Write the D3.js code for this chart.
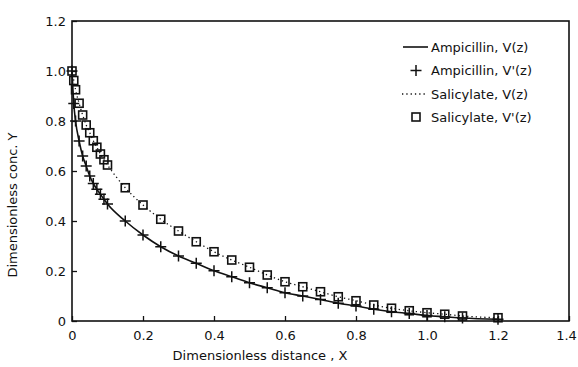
<!DOCTYPE html>
<html>
<head>
<meta charset="utf-8">
<script src="https://cdn.jsdelivr.net/npm/d3@7"></script>
<style>
body { margin: 0; background: #fff; }
svg text { font-family: "DejaVu Sans", "Liberation Sans", sans-serif; fill: #111; }
</style>
</head>
<body>
<svg id="chart"></svg>
<script>
// data
var xVals = [0, 0.005, 0.01, 0.02, 0.03, 0.04, 0.05, 0.06, 0.07, 0.08, 0.09, 0.1,
  0.15, 0.2, 0.25, 0.3, 0.35, 0.4, 0.45, 0.5, 0.55, 0.6, 0.65, 0.7, 0.75, 0.8,
  0.85, 0.9, 0.95, 1.0, 1.05, 1.1, 1.2]
var ampicillin = [1.0, 0.87, 0.80, 0.72, 0.66, 0.62, 0.58, 0.55, 0.527, 0.507, 0.487, 0.468,
  0.40, 0.344, 0.297, 0.26, 0.231, 0.201, 0.177, 0.153, 0.133, 0.113, 0.10, 0.086, 0.071, 0.06,
  0.047, 0.037, 0.03, 0.022, 0.017, 0.012, 0.007]
var salicylate = [1.0, 0.962, 0.925, 0.871, 0.824, 0.784, 0.753, 0.721, 0.695, 0.668, 0.645, 0.624,
  0.533, 0.464, 0.407, 0.36, 0.317, 0.277, 0.244, 0.215, 0.184, 0.157, 0.137, 0.117, 0.097, 0.081,
  0.064, 0.051, 0.041, 0.033, 0.027, 0.02, 0.013]
var xTicks = [0, 0.2, 0.4, 0.6, 0.8, 1.0, 1.2, 1.4]
var yTicks = [0, 0.2, 0.4, 0.6, 0.8, 1.0, 1.2]
var legendLabels = ["Ampicillin, V(z)", "Ampicillin, V'(z)", "Salicylate, V(z)", "Salicylate, V'(z)"]

var margin = {top: 21, right: 9, bottom: 46, left: 72}
var W = 578, H = 367
var width = W - margin.left - margin.right
var height = H - margin.top - margin.bottom

var svg = d3.select("#chart").attr("width", W).attr("height", H)
var g = svg.append("g").attr("transform", "translate(" + margin.left + "," + margin.top + ")")

var x = d3.scaleLinear().domain([0, 1.4]).range([0, width])
var y = d3.scaleLinear().domain([0, 1.2]).range([height, 0])

var fmt = function(d){ return d === 0 ? "0" : d3.format(".1f")(d) }

// axes, ticks pointing inward
var xAxis = g.append("g").attr("transform", "translate(0," + height + ")")
  .call(d3.axisBottom(x).tickValues(xTicks).tickFormat(fmt).tickSizeInner(-5).tickSizeOuter(0).tickPadding(6))
var yAxis = g.append("g")
  .call(d3.axisLeft(y).tickValues(yTicks).tickFormat(fmt).tickSizeInner(-5).tickSizeOuter(0).tickPadding(6))
xAxis.selectAll("text").style("font-size", "13px").attr("dy", "1em")
  .attr("dx", function(d){ return d === 1.4 ? -3 : 0 })
yAxis.selectAll("text").style("font-size", "13px").attr("dy", "0.35em")
g.selectAll(".domain").remove()
g.selectAll(".tick line").attr("stroke", "#111").attr("stroke-width", 1.3)

// frame
g.append("rect").attr("width", width).attr("height", height)
  .attr("fill", "none").attr("stroke", "#111").attr("stroke-width", 1.6)

var pts = function(arr){ return xVals.map(function(v, i){ return [v, arr[i]] }) }

var line = d3.line().x(function(d){ return x(d[0]) }).y(function(d){ return y(d[1]) }).curve(d3.curveMonotoneX)

g.append("path").datum(pts(ampicillin)).attr("d", line)
  .attr("fill", "none").attr("stroke", "#111").attr("stroke-width", 1.6)
g.append("path").datum(pts(salicylate)).attr("d", line)
  .attr("fill", "none").attr("stroke", "#111").attr("stroke-width", 1.3).attr("stroke-dasharray", "1.3,3")

function plusPath(s){ return "M" + (-s) + ",0H" + s + "M0," + (-s) + "V" + s }

g.selectAll(".plus").data(pts(ampicillin)).enter().append("path")
  .attr("class", "plus")
  .attr("transform", function(d){ return "translate(" + x(d[0]) + "," + y(d[1]) + ")" })
  .attr("d", plusPath(5.5))
  .attr("stroke", "#111").attr("stroke-width", 1.5).attr("fill", "none")

g.selectAll(".sq").data(pts(salicylate)).enter().append("rect")
  .attr("class", "sq")
  .attr("x", function(d){ return x(d[0]) - 4 })
  .attr("y", function(d){ return y(d[1]) - 4 })
  .attr("width", 8).attr("height", 8)
  .attr("fill", "none").attr("stroke", "#111").attr("stroke-width", 1.6)

// legend
var legY = [47, 70.5, 94, 117]
var lg = svg.append("g")
legendLabels.forEach(function(t, i){
  var yy = legY[i]
  if (i === 0) lg.append("line").attr("x1", 403).attr("x2", 428).attr("y1", yy).attr("y2", yy)
    .attr("stroke", "#111").attr("stroke-width", 1.6)
  if (i === 1) lg.append("path").attr("transform", "translate(416," + yy + ")").attr("d", plusPath(5.5))
    .attr("stroke", "#111").attr("stroke-width", 1.5)
  if (i === 2) lg.append("line").attr("x1", 402).attr("x2", 427).attr("y1", yy).attr("y2", yy)
    .attr("stroke", "#111").attr("stroke-width", 1.3).attr("stroke-dasharray", "1.3,3")
  if (i === 3) lg.append("rect").attr("x", 412).attr("y", yy - 4).attr("width", 8).attr("height", 8)
    .attr("fill", "none").attr("stroke", "#111").attr("stroke-width", 1.6)
  lg.append("text").attr("x", 431).attr("y", yy).attr("dy", "0.35em")
    .style("font-size", "13px").text(t)
})

// axis titles
svg.append("text").attr("x", 260).attr("y", 360).attr("text-anchor", "middle")
  .style("font-size", "13px").text("Dimensionless distance , X")
svg.append("text").attr("transform", "translate(17,205) rotate(-90)").attr("text-anchor", "middle")
  .style("font-size", "13px").text("Dimensionless  conc. Y")
</script>
</body>
</html>
